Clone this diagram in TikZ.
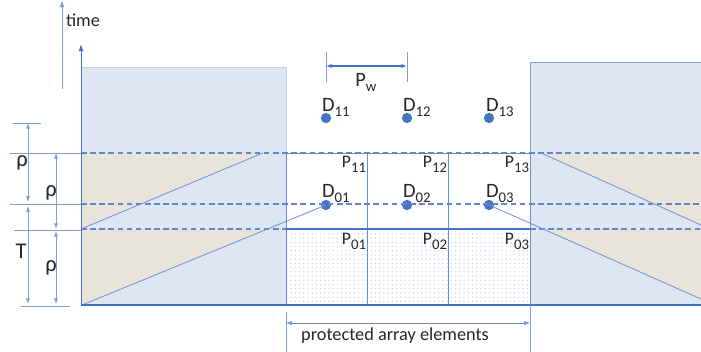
\documentclass[tikz,border=0pt]{standalone}
\usepackage{fontspec}
\setmainfont{Carlito}
\usepackage{xcolor}
\usetikzlibrary{arrows.meta, positioning, patterns}

\definecolor{boxblue}{HTML}{DEE6F3}
\definecolor{edgeblue}{HTML}{C3D1EA}
\definecolor{linblue}{HTML}{4472C4}
\definecolor{thinblue}{HTML}{7F9FD8}
\definecolor{tanfill}{HTML}{E8E4D9}

\newcommand{\ix}[1]{\raisebox{-3.2pt}{\fontsize{10.5}{10.5}\selectfont #1}}

\begin{document}
\begin{tikzpicture}[x=0.025cm, y=-0.025cm,
  every node/.style={inner sep=0pt, outer sep=0pt},
  txt/.style={font=\fontsize{13}{15}\selectfont, text=black!85},
  dlbl/.style={font=\fontsize{14.5}{16}\selectfont, text=black!85, anchor=base west},
  plbl/.style={font=\fontsize{12.5}{14}\selectfont, text=black!85, anchor=base east},
  greek/.style={font=\fontsize{16}{18}\selectfont, text=black!85},
  dotnode/.style={circle, fill=linblue, minimum size=7.3pt},
  axis/.style={-{Latex[length=5pt,width=3.5pt]}, linblue, line width=0.7pt},
  dimarr/.style={{Latex[length=4pt,width=3pt]}-{Latex[length=4pt,width=3pt]}, thinblue, line width=0.6pt},
  guideline/.style={thinblue, line width=0.6pt},
  lvlline/.style={linblue!85, dash pattern=on 4pt off 2.5pt, line width=0.9pt},
  diag/.style={linblue!75, line width=0.6pt},
  cell/.style={linblue!80, line width=0.6pt},
]
\useasboundingbox (0,0) rectangle (701,352);

% boxes on both sides
\fill[boxblue] (81,67) rectangle (286,305);
\draw[edgeblue, line width=0.6pt] (81,67) -- (286,67) -- (286,153);
\fill[boxblue] (530,62) rectangle (701,305);
\draw[thinblue, line width=0.7pt] (701,62) -- (530,62) -- (530,305);

% tan regions
\fill[tanfill] (81,153) -- (263,153) -- (81,229) -- cycle;
\fill[tanfill] (81,229) -- (267,229) -- (81,305) -- cycle;
\fill[tanfill] (541,153) -- (701,153) -- (701,225) -- cycle;
\fill[tanfill] (543,229) -- (701,229) -- (701,299) -- cycle;

% protected cells
\fill[pattern=dots, pattern color=thinblue!50] (286,229) rectangle (530,305);
\draw[cell] (286,153) rectangle (530,305);
\draw[cell] (367,153) -- (367,305);
\draw[cell] (448,153) -- (448,305);

% dots
\node[dotnode] (D11) at (326,118) {};
\node[dotnode] (D12) at (407,118) {};
\node[dotnode] (D13) at (489,118) {};
\node[dotnode] (D01) at (326,205) {};
\node[dotnode] (D02) at (407,205) {};
\node[dotnode] (D03) at (489,205) {};

% level lines
\coordinate (a1) at (81,153);  \coordinate (b1) at (701,153);
\coordinate (a2) at (81,204);  \coordinate (b2) at (701,204);
\coordinate (a3) at (81,229);  \coordinate (b3) at (701,229);
\coordinate (m1) at (286,229); \coordinate (m2) at (530,229);
\draw[lvlline] (a1) -- (b1);
\draw[lvlline] (a2) -- (b2);
\draw[lvlline] (a3) -- (m1);
\draw[lvlline] (m2) -- (b3);
\draw[linblue, line width=1.4pt] (m1) -- (m2);

% slopes
\coordinate (lb) at (82,305);
\coordinate (rb) at (701,299);
\coordinate (lu0) at (81,229);  \coordinate (lu1) at (263,153);
\coordinate (ru0) at (541,153); \coordinate (ru1) at (701,225);
\draw[diag] (lb) -- (D01.center);
\draw[diag] (D03.center) -- (rb);
\draw[diag] (lu0) -- (lu1);
\draw[diag] (ru0) -- (ru1);

% axes
\coordinate (t0) at (62,89);  \coordinate (t1) at (62,0);
\coordinate (s0) at (81,305); \coordinate (s1) at (81,44);
\coordinate (e1) at (701,305);
\draw[axis, thinblue] (t0) -- (t1);
\draw[axis] (s0) -- (s1);
\draw[linblue, line width=0.9pt] (s0) -- (e1);
\node[txt, anchor=base west] (time) at (66,27) {time};

% labels
\node[dlbl] (tD11) at (322,112) {D\ix{11}};
\node[dlbl] (tD12) at (403,112) {D\ix{12}};
\node[dlbl] (tD13) at (486,112) {D\ix{13}};
\node[dlbl] (tD01) at (322,198) {D\ix{01}};
\node[dlbl] (tD02) at (403,198) {D\ix{02}};
\node[dlbl] (tD03) at (486,198) {D\ix{03}};
\node[plbl] (tP11) at (366,168) {P\ix{11}};
\node[plbl] (tP12) at (447,168) {P\ix{12}};
\node[plbl] (tP13) at (529,168) {P\ix{13}};
\node[plbl] (tP01) at (366,245) {P\ix{01}};
\node[plbl] (tP02) at (447,245) {P\ix{02}};
\node[plbl] (tP03) at (529,245) {P\ix{03}};

% pitch
\coordinate (w0) at (326,52); \coordinate (w1) at (326,82);
\coordinate (w2) at (407,52); \coordinate (w3) at (407,82);
\draw[guideline] (w0) -- (w1);
\draw[guideline] (w2) -- (w3);
\draw[{Latex[length=4pt,width=3pt]}-{Latex[length=4pt,width=3pt]}, linblue, line width=1pt] (326,66) -- (407,66);
\node[dlbl, anchor=base] (pw) at (366,87) {P\ix{w}};

% left dimensions
\draw[guideline] (13,123) -- (41,123);
\draw[guideline] (10,153) -- (a1);
\draw[guideline] (10,204) -- (a2);
\draw[guideline] (14,230) -- (81,230);
\draw[guideline] (21,306) -- (70,306);
\draw[dimarr] (28,123) -- (28,202);
\draw[dimarr] (28,206) -- (28,304);
\draw[dimarr] (56,153) -- (56,229);
\draw[dimarr] (56,231) -- (56,304);
\node[greek] (r1) at (22,163) {ρ};
\node[greek] (r2) at (51,193) {ρ};
\node[greek] (tT) at (21,251) {T};
\node[greek] (r3) at (51,268) {ρ};

% protected span
\coordinate (p0) at (286,312); \coordinate (p1) at (286,352);
\coordinate (p2) at (530,305); \coordinate (p3) at (530,352);
\draw[guideline] (p0) -- (p1);
\draw[guideline] (p2) -- (p3);
\draw[dimarr, linblue!80] (286,323) -- (530,323);
\node[txt] (prot) at (395,336) {protected array elements};
\end{tikzpicture}
\end{document}
